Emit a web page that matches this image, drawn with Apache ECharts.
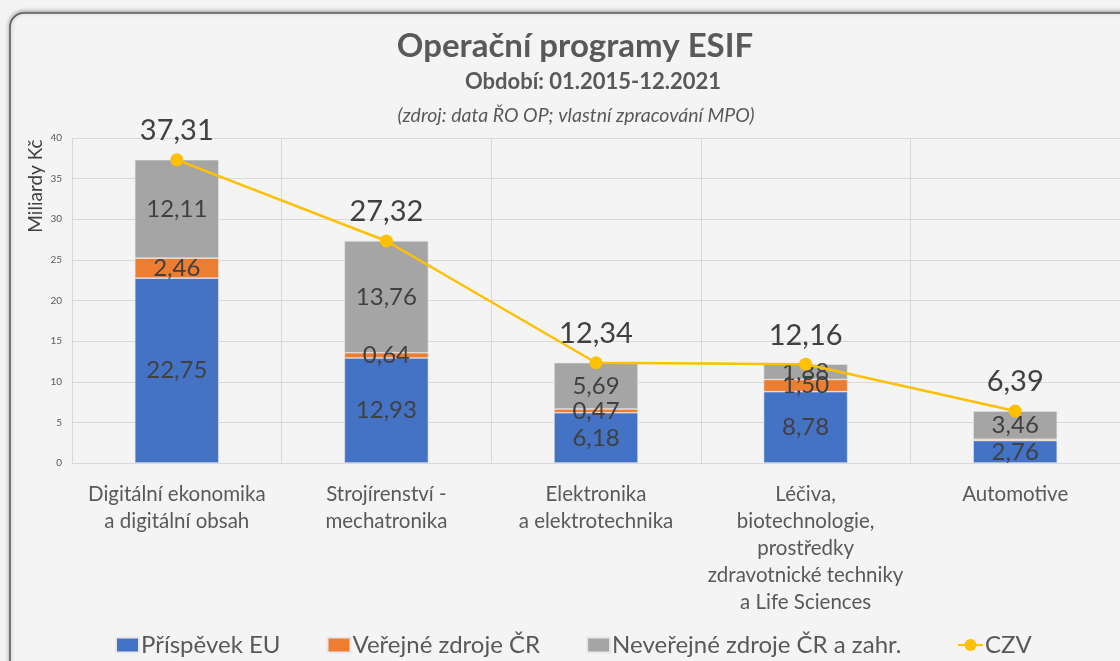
<!DOCTYPE html>
<html><head><meta charset="utf-8">
<script src="https://cdn.jsdelivr.net/npm/echarts@6/dist/echarts.min.js"></script>
<style>html,body{margin:0;padding:0;background:#f4f4f4;}#c{width:1120px;height:661px;}</style>
</head><body><div id="c"></div>
<script>
const categories = [
  'Digitální ekonomika\na digitální obsah',
  'Strojírenství -\nmechatronika',
  'Elektronika\na elektrotechnika',
  'Léčiva,\nbiotechnologie,\nprostředky\nzdravotnické techniky\na Life Sciences',
  'Automotive'
];
const prispevekEU = [22.75, 12.93, 6.18, 8.78, 2.76];
const verejneCR = [2.46, 0.64, 0.47, 1.50, 0.17];
const neverejneCR = [12.11, 13.76, 5.69, 1.88, 3.46];
const czv = [37.31, 27.32, 12.34, 12.16, 6.39];
const yTicks = [0, 5, 10, 15, 20, 25, 30, 35, 40];

const FONT = 'Lato';
const fmt = v => v.toFixed(2).replace('.', ',');
const segLabel = {show: true, position: 'inside', color: '#404040', fontSize: 24, fontFamily: FONT,
  formatter: p => fmt(p.value)};
const legendText = {fontSize: 24, color: '#595959', fontFamily: FONT, padding: [0, 0, 0, -3]};

const chart = echarts.init(document.getElementById('c'), null, {renderer: 'canvas'});
chart.setOption({
  backgroundColor: '#f4f4f4',
  animation: false,
  textStyle: {fontFamily: FONT},
  title: [
    {text: 'Operační programy ESIF', left: 570, top: 25, textAlign: 'center',
      textStyle: {fontSize: 33, fontWeight: 'bold', color: '#595959', fontFamily: FONT}},
    {text: 'Období: 01.2015-12.2021', left: 588, top: 66, textAlign: 'center',
      textStyle: {fontSize: 22, fontWeight: 'bold', color: '#595959', fontFamily: FONT}},
    {text: '(zdroj: data ŘO OP; vlastní zpracování MPO)', left: 571, top: 101, textAlign: 'center',
      textStyle: {fontSize: 19.5, fontStyle: 'italic', fontWeight: 'normal', color: '#595959', fontFamily: FONT}}
  ],
  graphic: [
    {type: 'rect', shape: {x: 10, y: 13, width: 1300, height: 800, r: 14}, z: -1,
      style: {fill: '#f4f4f4', stroke: '#5a5a5a', lineWidth: 1.5, shadowBlur: 4, shadowColor: 'rgba(0,0,0,0.35)', shadowOffsetY: -1}},
    {type: 'text', x: 36, y: 186, rotation: Math.PI / 2, z: 10,
      style: {text: 'Miliardy Kč', fontSize: 19, fill: '#404040', fontFamily: FONT, align: 'center', verticalAlign: 'middle'}}
  ],
  legend: [
    {left: 115, top: 633, padding: 0, itemGap: 46, itemWidth: 23, itemHeight: 15, textStyle: legendText,
      data: [
        {name: 'Příspěvek EU', icon: 'rect'},
        {name: 'Veřejné zdroje ČR', icon: 'rect'},
        {name: 'Neveřejné zdroje ČR a zahr.', icon: 'rect'}
      ]},
    {left: 957, top: 633, padding: 0, itemWidth: 25, itemHeight: 15, textStyle: legendText,
      data: [{name: 'CZV'}]}
  ],
  grid: {left: 72, right: 0, top: 138, bottom: 198, containLabel: false},
  xAxis: {
    type: 'category', data: categories,
    axisLine: {show: true, lineStyle: {color: '#d9d9d9'}},
    axisTick: {show: false},
    splitLine: {show: true, lineStyle: {color: '#d9d9d9', width: 1}},
    axisLabel: {color: '#595959', fontSize: 20.5, lineHeight: 27, margin: 18, fontFamily: FONT, interval: 0}
  },
  yAxis: {
    type: 'value', min: 0, max: 40, interval: 5,
    axisLine: {show: false}, axisTick: {show: false},
    splitLine: {lineStyle: {color: '#d9d9d9', width: 1}},
    axisLabel: {color: '#595959', fontSize: 10, margin: 10, fontFamily: FONT,
      formatter: v => yTicks.includes(v) ? String(v) : ''}
  },
  series: [
    {name: 'Příspěvek EU', type: 'bar', stack: 'a', barWidth: 84, data: prispevekEU,
      itemStyle: {color: '#4472C4', borderColor: '#e8e8e8', borderWidth: 0.6}, label: segLabel},
    {name: 'Veřejné zdroje ČR', type: 'bar', stack: 'a', barWidth: 84,
      data: verejneCR.map((v, i) => i === 4 ? {value: v, label: {show: false}} : v),
      itemStyle: {color: '#ED7D31', borderColor: '#e8e8e8', borderWidth: 0.6}, label: segLabel},
    {name: 'Neveřejné zdroje ČR a zahr.', type: 'bar', stack: 'a', barWidth: 84, data: neverejneCR,
      itemStyle: {color: '#A5A5A5', borderColor: '#e8e8e8', borderWidth: 0.6}, label: segLabel},
    {name: 'CZV', type: 'line', data: czv, symbol: 'circle', symbolSize: 13,
      lineStyle: {color: '#FFC000', width: 2.5}, itemStyle: {color: '#FFC000'},
      label: {show: true, position: 'top', distance: 8, color: '#404040', fontSize: 29, fontFamily: FONT,
        formatter: p => fmt(p.value)}, z: 5}
  ]
});
</script></body></html>
